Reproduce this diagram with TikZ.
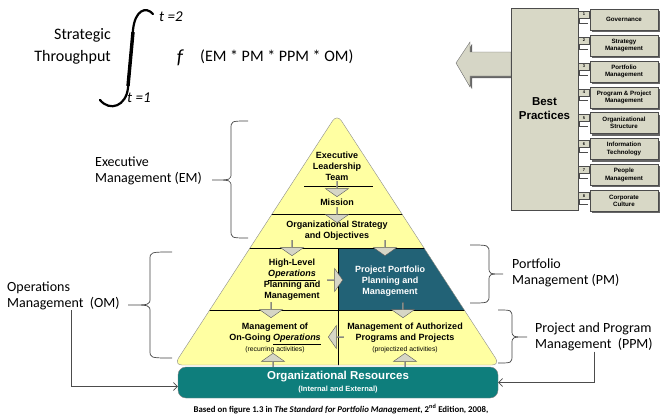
\documentclass[tikz,border=0pt]{standalone}
\usepackage{fontspec}
\setmainfont{Carlito}
\newfontfamily\arialfont{Liberation Sans}
\usetikzlibrary{shapes.arrows,shadows,arrows.meta}

\definecolor{pyryellow}{RGB}{255,255,162}
\definecolor{resteal}{RGB}{14,126,124}
\definecolor{pfteal}{RGB}{34,98,118}
\definecolor{bpbeige}{RGB}{216,216,198}
\definecolor{blkfill}{RGB}{214,214,198}

% xend, xmid, xtip, ytop, ymid, ybot
\newcommand\curlybrace[6]{%
  \draw[brc] (#1,#4) .. controls (#2,#4) .. (#2,#4+8) -- (#2,#5-7)
    .. controls (#2,#5) .. (#3,#5) .. controls (#2,#5) .. (#2,#5+7)
    -- (#2,#6-8) .. controls (#2,#6) .. (#1,#6);}

\tikzset{
  brc/.style={draw=black!75, line width=0.7pt},
  lbl/.style={font=\fontsize{14}{16.5}\selectfont, align=left, inner sep=0pt},
  pyrtxt/.style={font=\arialfont\bfseries\fontsize{9}{11}\selectfont, align=center, inner sep=0pt},
  blk/.style={single arrow, draw=black!65, fill=blkfill, minimum width=23pt, minimum height=15pt,
    single arrow head extend=4pt, single arrow tip angle=110, inner sep=0pt},
  tab/.style={draw=black!70, fill=bpbeige, minimum width=68pt, minimum height=21pt, inner sep=0pt,
    align=center, font=\arialfont\bfseries\fontsize{6.2}{7.2}\selectfont,
    drop shadow={shadow xshift=2pt, shadow yshift=-2pt, opacity=1, fill=black!60}},
  num/.style={draw=black!70, fill=bpbeige, minimum width=11pt, minimum height=7pt, inner sep=0pt,
    font=\arialfont\bfseries\fontsize{4}{4}\selectfont},
  link/.style={draw=black!70, line width=0.6pt, -{Straight Barb[length=4pt,width=8pt]}},
}

\begin{document}
\begin{tikzpicture}[x=1pt, y=-1pt]
\useasboundingbox (0,0) rectangle (664,415);

% formula
\node[font=\fontsize{16}{22}\selectfont, align=right, anchor=east, inner sep=0pt] (st) at (111,46) {Strategic\\Throughput};
\draw[line width=2.2pt, line cap=round] (153,14) .. controls (146,6) and (135,10) .. (133,30)
  -- (128,88) .. controls (126,106) and (110,112) .. (100,100);
\draw[line width=3.4pt] (133,32) -- (128,86);
\node[font=\itshape\fontsize{15}{15}\selectfont, anchor=west, inner sep=0pt] (tup) at (159,17) {t =2};
\node[font=\itshape\fontsize{15}{15}\selectfont, anchor=west, inner sep=0pt] (tlo) at (127,98) {t =1};
\node[font=\itshape\fontsize{20}{20}\selectfont, inner sep=0pt] (f) at (180,58) {f};
\node[font=\fontsize{16}{16}\selectfont, anchor=west, inner sep=0pt] (expr) at (200,57) {(EM * PM * PPM * OM)};

% best practices
\fill[black!60] (458,65) -- (472,44) -- (472,54) -- (513,54) -- (513,78) -- (472,78) -- (472,89) -- cycle;
\filldraw[draw=black!60, fill=blkfill] (456,63) -- (470,42) -- (470,52) -- (511,52) -- (511,76) -- (470,76) -- (470,87) -- cycle;
\node[draw=black!70, fill=bpbeige, minimum width=67pt, minimum height=202pt, align=center,
  font=\arialfont\bfseries\fontsize{11.5}{14}\selectfont] (bp) at (544.5,109) {Best\\Practices};
\foreach \i/\txt in {1/Governance, 2/{Strategy\\Management}, 3/{Portfolio\\Management},
    4/{Program \& Project\\Management}, 5/{Organizational\\Structure}, 6/{Information\\Technology},
    7/{People\\Management}, 8/{Corporate\\Culture}} {
  \pgfmathsetmacro\yy{19.5+(\i-1)*25.9}
  \node[tab] (tab\i) at (624,\yy) {\txt};
  \node[num] (num\i) at (584,\yy-5) {\i};
  \draw[black!70, line width=1pt] ([xshift=1pt]num\i.south west) -- ++(0,5) -- ++(9,0);
}

% pyramid
\coordinate (apex) at (337,114);
\coordinate (bl) at (174,365);
\coordinate (br) at (500,365);
\fill[pyryellow, rounded corners=8pt] (apex) -- (br) -- (bl) -- cycle;
\fill[pfteal] (338,248) -- (424,248) -- (464.3,310) -- (338,310) -- cycle;
\begin{scope}
\clip[rounded corners=8pt] (apex) -- (br) -- (bl) -- cycle;
\draw[line width=0.8pt] (304,186) -- (373,186);
\draw[line width=0.8pt] (200,214) -- (480,214);
\draw[line width=0.8pt] (200,248) -- (480,248);
\draw[line width=0.8pt] (200,310) -- (480,310);
\draw[line width=0.8pt] (338,248) -- (338,370);
\end{scope}
\draw[black!45, rounded corners=8pt] (apex) -- (br) -- (bl) -- cycle;

\node[pyrtxt] (team) at (337,166) {Executive\\Leadership\\Team};
\node[pyrtxt] (mission) at (337,202) {Mission};
\node[pyrtxt] (strat) at (337,231) {Organizational Strategy\\and Objectives};
\node[pyrtxt] (hlops) at (292,280) {High-Level\\\underline{\textit{Operations}}\\Planning and\\Management};
\node[pyrtxt, text=white] (pfm) at (390,281) {Project Portfolio\\Planning and\\Management};
\node[pyrtxt] (ongo) at (275,338) {Management of\\On-Going \underline{\textit{Operations}}\\{\mdseries\fontsize{6.8}{8}\selectfont (recurring activities)}};
\node[pyrtxt] (auth) at (405,338) {Management of Authorized\\Programs and Projects\\{\mdseries\fontsize{6.8}{8}\selectfont (projectized activities)}};

\node[blk, rotate=-90] (a1) at (337,189) {};
\node[blk, rotate=-90] (a2) at (337,215) {};
\node[blk, rotate=-90] (a3) at (292,248) {};
\node[blk, rotate=-90] (a4) at (385,248) {};
\node[blk] (a5) at (335,280) {};
\node[blk, rotate=-90] (a6) at (271,310) {};
\node[blk, rotate=-90] (a7) at (403,310) {};
\node[blk, rotate=180] (a8) at (336,337) {};
\node[blk, rotate=90] (a9) at (273,361) {};
\node[blk, rotate=90] (a10) at (405,361) {};

\node[draw=black!50, fill=resteal, rounded corners=8pt, minimum width=320pt, minimum height=31pt,
  text=white, align=center, inner sep=0pt, font=\arialfont\bfseries] (res) at (338,382.5)
  {\fontsize{11.5}{12.5}\selectfont Organizational Resources\\\fontsize{7.5}{9}\selectfont (Internal and External)};

\node[font=\bfseries\fontsize{8.8}{10}\selectfont, inner sep=0pt] (src) at (341,409)
  {Based on figure 1.3 in \textit{The Standard for Portfolio Management}, 2\textsuperscript{nd} Edition, 2008,};

% braces and labels
\curlybrace{248}{231}{212}{121}{180}{238}
\curlybrace{172}{150}{128}{252}{305}{358}
\curlybrace{470}{489}{503}{245}{274}{303}
\curlybrace{498}{512}{527}{310}{337}{363}
\node[lbl, anchor=west] (em) at (95,171) {Executive\\Management (EM)};
\node[lbl, anchor=west] (om) at (7,296) {Operations\\Management\ \ (OM)};
\node[lbl, anchor=west] (pm) at (512,273) {Portfolio\\Management (PM)};
\node[lbl, anchor=west] (ppm) at (535,337) {Project and Program\\Management\ \ (PPM)};
\draw[link] ([xshift=8pt]om.south) |- ([yshift=-4pt]res.west);
\draw[link] (ppm.south) |- (res.east);
\end{tikzpicture}
\end{document}
